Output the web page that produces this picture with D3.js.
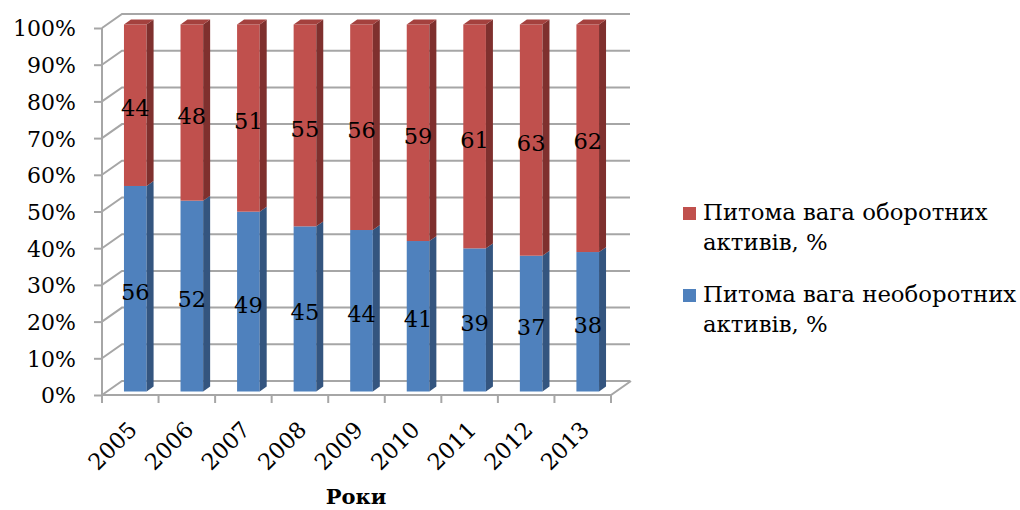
<!DOCTYPE html>
<html><head><meta charset="utf-8">
<script src="https://d3js.org/d3.v7.min.js"></script>
<style>body{margin:0;background:#fff}svg{display:block}text{font-family:"DejaVu Serif",serif;fill:#000}</style>
</head><body>
<svg id="c" width="1020" height="510"></svg>
<script>
const years = ["2005","2006","2007","2008","2009","2010","2011","2012","2013"];
const currentShare = [44,48,51,55,56,59,61,63,62];      // оборотних
const nonCurrentShare = [56,52,49,45,44,41,39,37,38];   // необоротних
const yTicks = [0,10,20,30,40,50,60,70,80,90,100];
const seriesNames = ["Питома вага оборотних активів, %","Питома вага необоротних активів, %"];
const axisTitle = "Роки";

const svg = d3.select("#c");
const x = d3.scaleBand().domain(years).range([102,611]).padding(0);
const y = d3.scaleLinear().domain([0,100]).range([395,28]);
const DX = 20, DY = -14;          // depth vector
const f0 = 0.25, f1 = 0.6;        // bar depth position fractions
const bw = x.bandwidth()*0.4;
const grid = "#a6a6a6";

// walls & grid
const g = svg.append("g");
yTicks.forEach(v=>{
  g.append("path").attr("d",`M102,${y(v)}L${102+DX},${y(v)+DY}L630,${y(v)+DY}`)
   .attr("fill","none").attr("stroke",grid).attr("stroke-width",2);
});
g.append("path").attr("d",`M102,${y(0)}L611,${y(0)}L${611+DX},${y(0)+DY}`).attr("fill","none").attr("stroke",grid).attr("stroke-width",2);
g.append("line").attr("x1",102).attr("x2",102).attr("y1",y(0)).attr("y2",y(100)).attr("stroke",grid).attr("stroke-width",2);

// y axis
const ya = svg.append("g").attr("transform","translate(102,0)")
  .call(d3.axisLeft(y).tickValues(yTicks).tickSize(8).tickPadding(18).tickFormat(d=>d+"%"));
ya.select(".domain").remove();
ya.selectAll("line").attr("stroke",grid).attr("stroke-width",2);
ya.selectAll("text").style("font-family","DejaVu Serif").style("font-size","22px").attr("fill","#000").attr("dy","0.36em");

// x ticks at band boundaries
const bounds = years.map(d=>x(d)).concat([x.range()[1]]);
svg.selectAll(".xt").data(bounds).join("line").attr("x1",d=>d).attr("x2",d=>d)
  .attr("y1",y(0)).attr("y2",y(0)+8).attr("stroke",grid).attr("stroke-width",2);
const xa = svg.append("g").attr("transform",`translate(0,${y(0)})`)
  .call(d3.axisBottom(x).tickSize(0).tickPadding(0));
xa.select(".domain").remove();
xa.selectAll("text").style("font-family","DejaVu Serif").style("font-size","22.5px").attr("fill","#000")
  .attr("text-anchor","end").attr("dy",0).attr("y",0)
  .attr("transform","translate(8,36) rotate(-45)");

// bars
const series = [
  {vals: nonCurrentShare, base: years.map(()=>0), front:"#4f81bd", side:"#34557f", top:"#41689a"},
  {vals: currentShare, base: nonCurrentShare, front:"#c0504d", side:"#7f302e", top:"#a4413e"}
];
const ox = DX*f0, oy = DY*f0, dx = DX*(f1-f0), dy = DY*(f1-f0);
const bars = svg.append("g");
years.forEach((yr,i)=>{
  series.forEach((s,si)=>{
    const x0 = x(yr)+x.bandwidth()/2 - bw/2 + ox;
    const yb = y(s.base[i]) + oy, yt = y(s.base[i]+s.vals[i]) + oy;
    bars.append("rect").attr("x",x0).attr("y",yt).attr("width",bw).attr("height",yb-yt).attr("fill",s.front);
    bars.append("path").attr("d",`M${x0+bw},${yb}L${x0+bw+dx},${yb+dy}L${x0+bw+dx},${yt+dy}L${x0+bw},${yt}Z`).attr("fill",s.side);
    if(si===1){
      bars.append("path").attr("d",`M${x0},${yt}L${x0+dx},${yt+dy}L${x0+bw+dx},${yt+dy}L${x0+bw},${yt}Z`).attr("fill",s.top);
    }
    bars.append("text").attr("x",x0+bw/2).attr("y",(yb+yt)/2+3).attr("dy","0.36em")
      .attr("text-anchor","middle").style("font-size","22.5px").text(s.vals[i]);
  });
});

// axis title
svg.append("text").attr("x",356).attr("y",504).attr("text-anchor","middle")
  .style("font-size","21px").style("font-weight","bold").text(axisTitle);

// legend
const leg = [
  {name: seriesNames[0], color:"#c0504d", y:220},
  {name: seriesNames[1], color:"#4f81bd", y:302}
];
leg.forEach(l=>{
  svg.append("rect").attr("x",683).attr("y",l.y-13).attr("width",13).attr("height",13).attr("fill",l.color);
  const words = l.name.split(" ");
  const line1 = words.slice(0,3).join(" "), line2 = words.slice(3).join(" ");
  svg.append("text").attr("x",703).attr("y",l.y).style("font-size","22.8px").text(line1);
  svg.append("text").attr("x",703).attr("y",l.y+30).style("font-size","22.8px").text(line2);
});
</script>
</body></html>
